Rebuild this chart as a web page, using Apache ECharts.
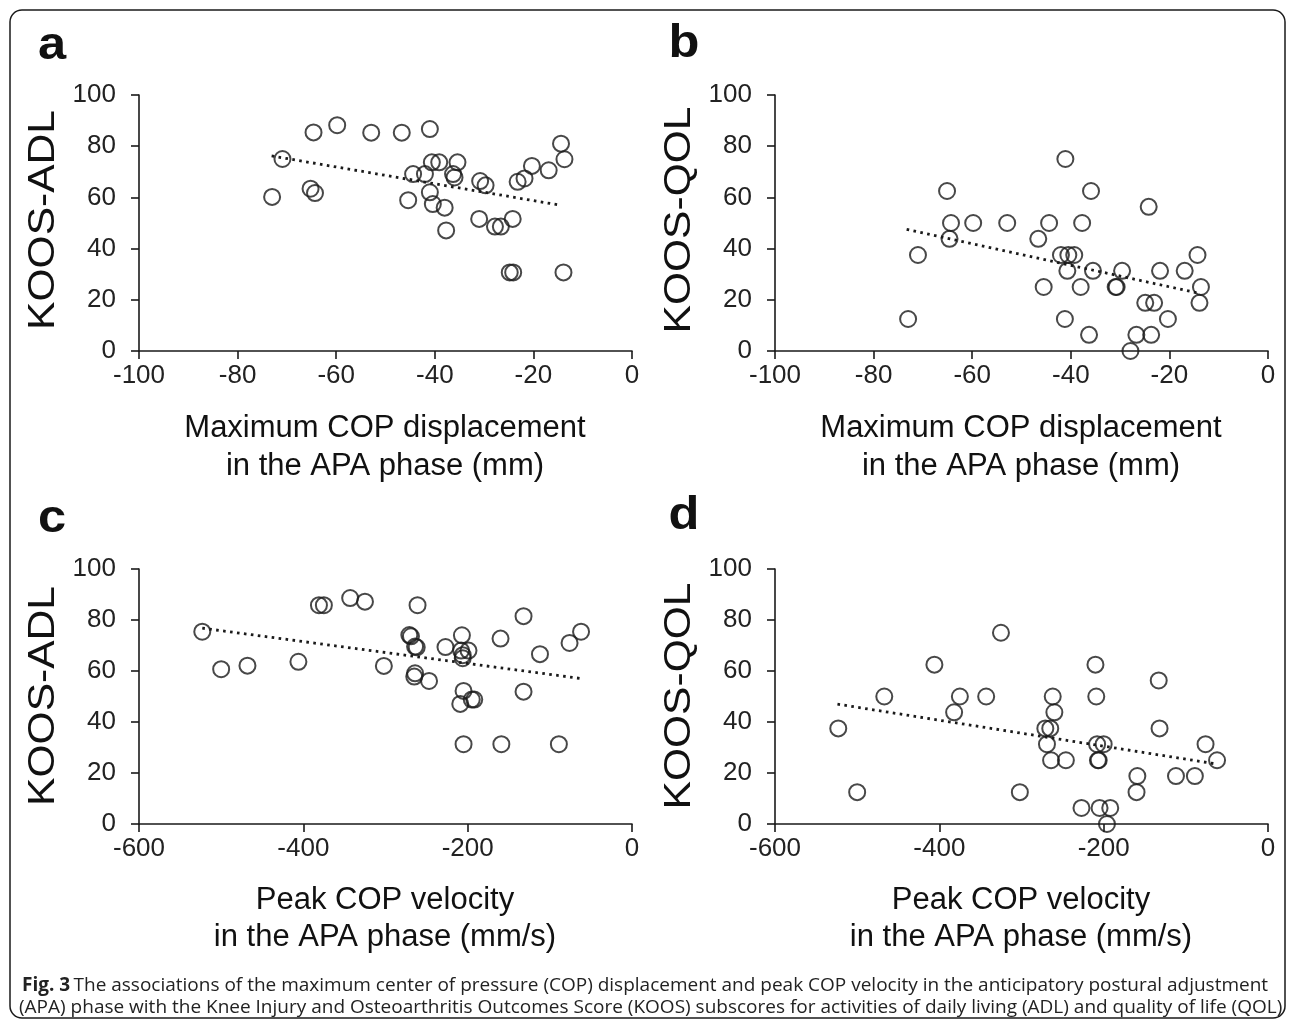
<!DOCTYPE html>
<html><head><meta charset="utf-8">
<script src="https://cdn.jsdelivr.net/npm/echarts@6/dist/echarts.min.js"></script>
<style>html,body{margin:0;padding:0;background:#fff}#c{width:1295px;height:1029px}</style>
</head><body><div id="c"></div>
<script>
// Panel a: max COP displacement (mm) vs KOOS-ADL
const aX = [-64.6,-59.8,-52.9,-46.7,-41.0,-70.9,-73.0,-65.2,-64.3,-44.4,-42.0,-40.6,-39.1,-35.4,-36.3,-36.0,-41.0,-40.4,-38.0,-45.4,-37.7,-30.8,-29.7,-31.0,-27.8,-26.6,-24.2,-23.2,-21.8,-20.3,-16.9,-14.4,-13.7,-24.8,-24.1,-13.9];
const aY = [85.4,88.2,85.3,85.3,86.7,75.0,60.2,63.4,61.7,69.1,69.1,73.7,73.7,73.7,69.1,67.8,62.0,57.4,56.0,58.9,47.1,66.4,64.7,51.6,48.6,48.6,51.6,66.1,67.4,72.3,70.6,81.0,74.9,30.7,30.7,30.7];
// Panel b: max COP displacement (mm) vs KOOS-QOL
const bX = [-41.1,-65.1,-35.9,-24.2,-64.3,-59.8,-52.9,-44.4,-37.7,-64.6,-46.6,-71.0,-42.0,-40.5,-39.3,-14.3,-40.7,-35.5,-29.6,-21.9,-16.9,-45.5,-38.0,-30.9,-30.7,-13.6,-24.9,-23.1,-13.9,-73.0,-41.2,-20.3,-36.3,-26.7,-23.7,-27.9];
const bY = [75.0,62.5,62.5,56.3,50.0,50.0,50.0,50.0,50.0,43.8,43.8,37.5,37.5,37.5,37.5,37.5,31.3,31.3,31.3,31.3,31.3,25.0,25.0,25.0,25.0,25.0,18.8,18.8,18.8,12.5,12.5,12.5,6.3,6.3,6.3,0];
// Panel c: peak COP velocity (mm/s) vs KOOS-ADL
const cX = [-523,-500,-468,-406,-381,-375,-343,-325,-302,-261,-271,-269,-264,-262,-264,-265,-247,-227,-207,-208,-199,-206,-206,-205,-209,-195,-192,-160,-132,-112,-132,-76,-62,-205,-159,-89];
const cY = [75.4,60.7,62.1,63.6,85.8,85.8,88.6,87.2,62.0,85.8,74.1,73.6,69.6,69.3,59.1,57.8,56.1,69.4,74.0,68.0,68.0,66.2,65.0,52.2,47.1,48.8,48.8,72.7,81.5,66.6,51.9,71.0,75.4,31.3,31.3,31.3];
// Panel d: peak COP velocity (mm/s) vs KOOS-QOL
const dX = [-325,-406,-210,-133,-467,-375,-343,-262,-209,-382,-260,-523,-271,-265,-132,-269,-208,-200,-76,-264,-246,-207,-206,-62,-159,-112,-89,-500,-302,-160,-227,-205,-192,-196];
const dY = [75,62.5,62.5,56.3,50,50,50,50,50,43.8,43.8,37.5,37.5,37.5,37.5,31.3,31.3,31.3,31.3,25,25,25,25,25,18.8,18.8,18.8,12.5,12.5,12.5,6.3,6.3,6.3,0];
// Linear trend lines (endpoints)
const aTrend = [[-73.1,76.2],[-14.4,56.9]];
const bTrend = [[-73.3,47.5],[-13.9,22.5]];
const cTrend = [[-523,76.8],[-61,57.0]];
const dTrend = [[-524,47.0],[-64,23.6]];
// Axis ranges / tick labels
const dispTicks = [-100,-80,-60,-40,-20,0];
const velTicks = [-600,-400,-200,0];
const yTicks = [0,20,40,60,80,100];
const panelLetters = ['a','b','c','d'];
const yTitles = ['KOOS-ADL','KOOS-QOL','KOOS-ADL','KOOS-QOL'];
const xTitles = [['Maximum COP displacement','in the APA phase (mm)'],['Maximum COP displacement','in the APA phase (mm)'],['Peak COP velocity','in the APA phase (mm/s)'],['Peak COP velocity','in the APA phase (mm/s)']];
const caption1 = 'The associations of the maximum center of pressure (COP) displacement and peak COP velocity in the anticipatory postural adjustment';
const caption2 = '(APA) phase with the Knee Injury and Osteoarthritis Outcomes Score (KOOS) subscores for activities of daily living (ADL) and quality of life (QOL)';

const chart = echarts.init(document.getElementById('c'), null, {renderer:'canvas'});
const FONT = '"Liberation Sans", Arial, sans-serif';
const INK = '#1a1a1a';
const grids = [
  {left:139, top:95, width:493, height:256},
  {left:775, top:95, width:493, height:256},
  {left:139, top:569, width:493, height:255},
  {left:775, top:569, width:493, height:255}
];
const xs=[aX,bX,cX,dX], ys=[aY,bY,cY,dY], trends=[aTrend,bTrend,cTrend,dTrend];
const axisLine = {show:true, onZero:false, lineStyle:{color:INK, width:1.6}};
const axisTick = {show:true, inside:false, length:8, lineStyle:{color:INK, width:1.6}};
const xAxis=[], yAxis=[], series=[];
for (let i=0;i<4;i++){
  const isDisp = i<2;
  const tk = isDisp?dispTicks:velTicks;
  xAxis.push({type:'value', gridIndex:i, min:tk[0], max:tk[tk.length-1], interval:tk[1]-tk[0],
    axisLine, axisTick, splitLine:{show:false},
    axisLabel:{color:'#222', fontSize:26, fontFamily:FONT, margin:12}});
  yAxis.push({type:'value', gridIndex:i, min:yTicks[0], max:yTicks[yTicks.length-1], interval:yTicks[1]-yTicks[0],
    axisLine, axisTick, splitLine:{show:false},
    axisLabel:{color:'#222', fontSize:26, fontFamily:FONT, margin:23}});
  series.push({type:'scatter', xAxisIndex:i, yAxisIndex:i, symbol:'circle', symbolSize:16,
    itemStyle:{color:'rgba(255,255,255,0)', borderColor:INK, borderWidth:2},
    data: xs[i].map((v,k)=>[v, ys[i][k]]), z:3});
  series.push({type:'line', xAxisIndex:i, yAxisIndex:i, symbol:'none', silent:true,
    lineStyle:{color:INK, width:2.8, type:[2.6,4.4], cap:'butt'},
    data: trends[i], z:4});
}
const graphic = [];
graphic.push({type:'rect', shape:{x:10,y:10,width:1275,height:1008,r:12}, style:{fill:'none', stroke:INK, lineWidth:1.5}, silent:true});
const letterPos = [[52,46],[684,44],[52,519],[684,516]];
const yTitlePos = [[44,220],[680,220],[44,696],[680,696]];
const xTitleCx = [385,1021,385,1021];
const xTitleY = [[428,466],[428,466],[900,937],[900,937]];
for (let i=0;i<4;i++){
  graphic.push({type:'text', x:letterPos[i][0], y:letterPos[i][1], scaleX:1.1, style:{text:panelLetters[i], fontSize:46, fontWeight:'bold', fontFamily:FONT, fill:'#111', align:'center', verticalAlign:'middle'}});
  graphic.push({type:'text', x:yTitlePos[i][0], y:yTitlePos[i][1], rotation:Math.PI/2, scaleX:1.15, style:{text:yTitles[i], fontSize:37, fontFamily:FONT, fill:'#111', align:'center', verticalAlign:'middle'}});
  graphic.push({type:'text', x:xTitleCx[i], y:xTitleY[i][0], style:{text:xTitles[i][0], fontSize:31, fontFamily:FONT, fill:'#111', align:'center', verticalAlign:'middle'}});
  graphic.push({type:'text', x:xTitleCx[i], y:xTitleY[i][1], style:{text:xTitles[i][1], fontSize:31, fontFamily:FONT, fill:'#111', align:'center', verticalAlign:'middle'}});
}
const CAPF = '"Open Sans", sans-serif';
graphic.push({type:'text', x:22, y:986, style:{rich:{b:{fontWeight:'bold', fontSize:19, fontFamily:CAPF, fill:'#222'}, n:{fontSize:19, fontFamily:CAPF, fill:'#222'}}, text:'{b|Fig. 3} {n|'+caption1+'}', verticalAlign:'middle'}});
graphic.push({type:'text', x:19, y:1008, style:{text:caption2, fontSize:19, fontFamily:CAPF, fill:'#222', verticalAlign:'middle'}});

chart.setOption({animation:false, backgroundColor:'#fff', grid:grids, xAxis, yAxis, series, graphic});
</script></body></html>
